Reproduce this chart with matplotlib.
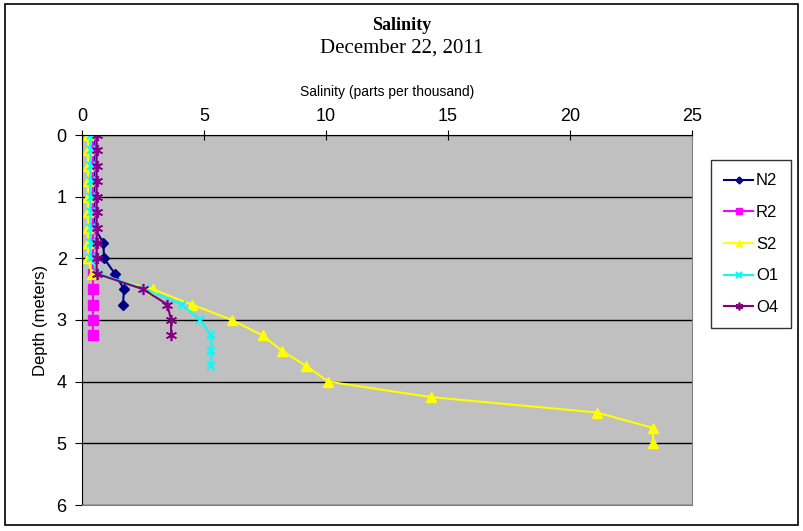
import numpy as np
import matplotlib
matplotlib.use("Agg")
from matplotlib import pyplot as plt
from matplotlib.patches import Rectangle

# depth (m) sampled every 0.25 m
n2_depth = [0, 0.25, 0.5, 0.75, 1, 1.25, 1.5, 1.75, 2, 2.25, 2.5, 2.75]
n2_sal = [0.5, 0.5, 0.5, 0.5, 0.5, 0.5, 0.5, 0.88, 0.9, 1.35, 1.72, 1.68]

r2_depth = [0, 0.25, 0.5, 0.75, 1, 1.25, 1.5, 1.75, 2, 2.25, 2.5, 2.75, 3, 3.25]
r2_sal = [0.45, 0.45, 0.45, 0.45, 0.45, 0.45, 0.45, 0.45, 0.45, 0.45, 0.45, 0.45, 0.45, 0.45]

s2_depth = [0, 0.25, 0.5, 0.75, 1, 1.25, 1.5, 1.75, 2, 2.25, 2.5, 2.75, 3, 3.25,
            3.5, 3.75, 4, 4.25, 4.5, 4.75, 5]
s2_sal = [0.25, 0.25, 0.25, 0.25, 0.25, 0.25, 0.25, 0.25, 0.25, 0.4, 2.9, 4.5, 6.15, 7.4,
          8.2, 9.2, 10.1, 14.3, 21.1, 23.4, 23.4]

o1_depth = [0, 0.25, 0.5, 0.75, 1, 1.25, 1.5, 1.75, 2, 2.25, 2.5, 2.75, 3, 3.25, 3.5, 3.75]
o1_sal = [0.35, 0.35, 0.35, 0.35, 0.35, 0.35, 0.35, 0.35, 0.35, 0.7, 2.6, 4.1, 4.85, 5.3, 5.3, 5.3]

o4_depth = [0, 0.25, 0.5, 0.75, 1, 1.25, 1.5, 1.75, 2, 2.25, 2.5, 2.75, 3, 3.25]
o4_sal = [0.6, 0.6, 0.6, 0.6, 0.6, 0.6, 0.6, 0.6, 0.6, 0.6, 2.5, 3.5, 3.65, 3.65]

x_ticks = [0, 5, 10, 15, 20, 25]
y_ticks = [0, 1, 2, 3, 4, 5, 6]

fig = plt.figure(figsize=(8.04, 5.31), dpi=100)
ax = fig.add_axes([82 / 804, 1 - 505 / 531, (692 - 82) / 804, (505 - 135) / 531])
ax.set_facecolor("#c0c0c0")

ax.plot(n2_sal, n2_depth, color="#000080", marker="D", markersize=5, lw=1.5, label="N2")
ax.plot(r2_sal, r2_depth, color="#ff00ff", marker="s", markersize=7, lw=1.5, label="R2")
ax.plot(s2_sal, s2_depth, color="#ffff00", marker="^", markersize=7, lw=1.5, label="S2")
ax.plot(o1_sal, o1_depth, color="#00ffff", marker="x", markersize=6, mew=1.5, lw=1.5, label="O1")
ax.plot(o4_sal, o4_depth, color="#800080", marker=(6, 2, 0), markersize=8, mew=1.2, lw=1.5, label="O4")

ax.set_xlim(0, 25)
ax.set_ylim(6, 0)
ax.set_xticks(x_ticks)
ax.set_yticks(y_ticks)
ax.xaxis.tick_top()
ax.xaxis.set_label_position("top")
ax.tick_params(axis="x", direction="inout", length=7, labelsize=13, pad=4)
ax.tick_params(axis="y", direction="out", length=5, labelsize=13, pad=6)
for lab in ax.get_xticklabels() + ax.get_yticklabels():
    lab.set_family("Liberation Sans")
ax.grid(axis="y", color="black", lw=1)
ax.set_axisbelow(True)
for s in ["right", "bottom"]:
    ax.spines[s].set_color("#808080")
ax.spines["left"].set_color("black")
ax.spines["top"].set_color("black")

ax.set_xlabel("Salinity (parts per thousand)", fontsize=10, family="Liberation Sans", labelpad=8)
ax.set_ylabel("Depth (meters)", fontsize=12, family="Liberation Sans", labelpad=6)

fig.text(0.5, 1 - 25 / 531, "Salinity", ha="center", va="center", fontsize=13,
         fontweight="bold", family="Liberation Serif")
fig.text(0.5, 1 - 48 / 531, "December 22, 2011", ha="center", va="center", fontsize=15,
         family="Liberation Serif")

leg = ax.legend(loc="upper left", bbox_to_anchor=(711 / 804, 1 - 160 / 531),
                bbox_transform=fig.transFigure, frameon=True, fancybox=False,
                prop={"family": "Liberation Sans", "size": 12}, labelspacing=1.0,
                handlelength=1.7, handletextpad=0.2, borderpad=0.8, borderaxespad=0,
                markerscale=0.7)
leg.get_frame().set_edgecolor("black")
leg.get_frame().set_linewidth(1)

fig.patches.append(Rectangle((5 / 804, 6 / 531), 793 / 804, 521 / 531, transform=fig.transFigure,
                             fill=False, edgecolor="black", lw=1.2))

fig.savefig("out.png", dpi=100)
